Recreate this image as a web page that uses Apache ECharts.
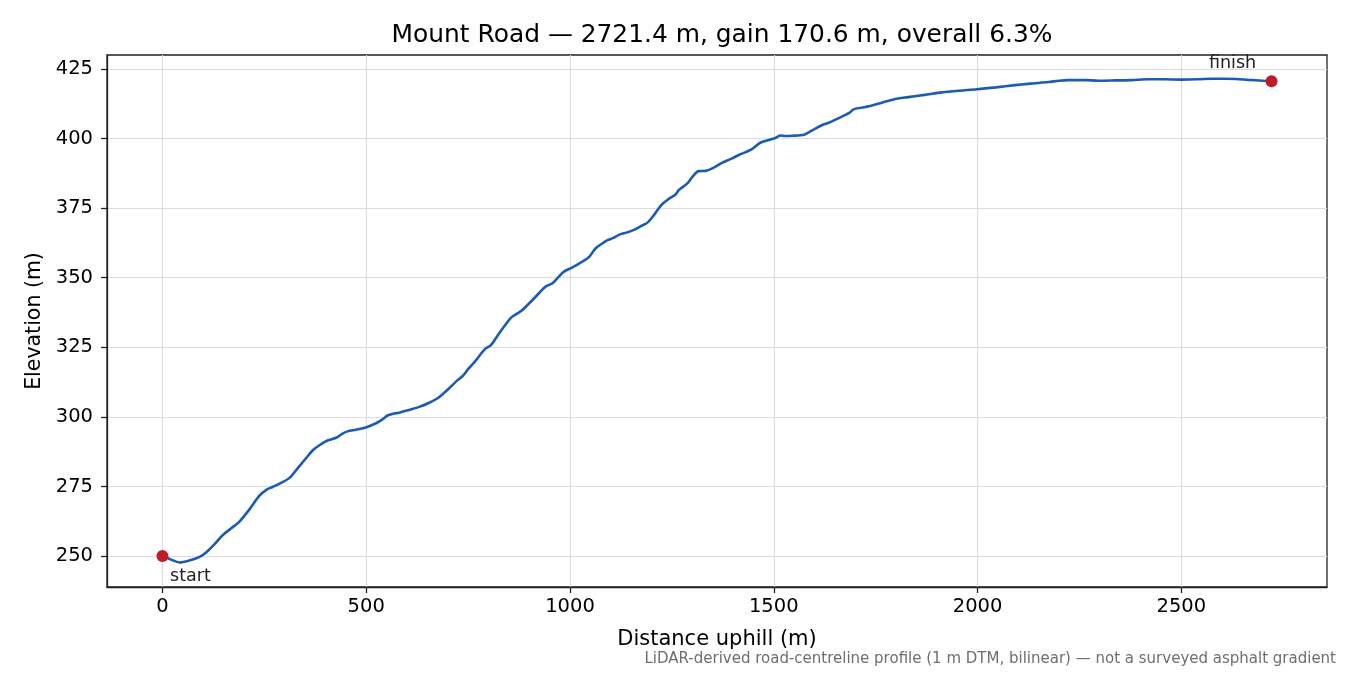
<!DOCTYPE html>
<html>
<head>
    <meta charset="UTF-8">
    <title>Mount Road profile</title>
    <script src="https://cdn.jsdelivr.net/npm/echarts@6/dist/echarts.min.js"></script>
    <style>
        html, body { margin: 0; padding: 0; background: #fff; }
        #chart { width: 1350px; height: 675px; }
    </style>
</head>
<body>
<div id="chart"></div>
<script>
    // 距离 (m) 和 高程 (m)
    var distance = [0, 20, 42, 66, 90, 107, 128, 147, 168, 189, 212, 238, 255, 270, 290, 311, 332, 352, 369, 385,
        405, 426, 440, 454, 475, 499, 524, 540, 552, 568, 581, 605, 630, 652, 675, 690, 703, 724, 736, 752,
        769, 785, 793, 806, 826, 841, 855, 870, 883, 908, 925, 940, 957, 972, 985, 1006, 1028, 1047, 1063, 1078,
        1092, 1106, 1120, 1140, 1157, 1175, 1190, 1206, 1218, 1226, 1242, 1259, 1267, 1288, 1304, 1316, 1333, 1349, 1373, 1398,
        1414, 1443, 1467, 1488, 1505, 1516, 1530, 1545, 1574, 1588, 1602, 1618, 1635, 1650, 1667, 1685, 1696, 1715, 1733, 1765,
        1798, 1830, 1870, 1913, 1955, 1998, 2045, 2092, 2135, 2174, 2200, 2223, 2264, 2297, 2340, 2378, 2419, 2460, 2501, 2540,
        2574, 2607, 2635, 2664, 2700, 2721.4];
    var elevation = [250.0, 248.8, 247.7, 248.4, 249.6, 251.3, 254.3, 257.4, 259.9, 262.4, 266.5, 271.7, 273.8, 274.8, 276.2, 278.0, 281.6, 285.1, 288.0, 289.8,
        291.5, 292.5, 293.8, 294.8, 295.4, 296.2, 297.7, 299.1, 300.5, 301.2, 301.5, 302.5, 303.6, 304.9, 306.7, 308.5, 310.2, 313.2, 314.6, 317.5,
        320.3, 323.3, 324.6, 325.8, 330.0, 333.0, 335.6, 337.1, 338.4, 342.0, 344.6, 346.8, 348.0, 350.3, 352.2, 353.7, 355.6, 357.5, 360.6, 362.2,
        363.5, 364.3, 365.4, 366.3, 367.2, 368.6, 369.8, 372.5, 375.0, 376.4, 378.3, 379.9, 381.5, 383.9, 386.9, 388.3, 388.4, 389.3, 391.3, 392.9,
        394.1, 395.9, 398.5, 399.5, 400.3, 401.1, 400.9, 401.0, 401.4, 402.4, 403.6, 404.8, 405.7, 406.7, 407.9, 409.2, 410.5, 411.1, 411.6, 412.9,
        414.2, 414.9, 415.7, 416.6, 417.2, 417.7, 418.4, 419.2, 419.8, 420.3, 420.8, 421.0, 421.0, 420.8, 420.9, 421.0, 421.3, 421.3, 421.2, 421.3,
        421.5, 421.5, 421.4, 421.1, 420.8, 420.6];
    var xTicks = [0, 500, 1000, 1500, 2000, 2500];
    var yTicks = [250, 275, 300, 325, 350, 375, 400, 425];
    var endNames = ['start', 'finish'];

    var font = 'DejaVu Sans';
    var profile = distance.map(function (d, i) { return [d, elevation[i]]; });
    var last = distance.length - 1;

    var myChart = echarts.init(document.getElementById('chart'));
    var option = {
        animation: false,
        textStyle: {fontFamily: font},
        title: {
            text: 'Mount Road — 2721.4 m, gain 170.6 m, overall 6.3%',
            left: 717, top: 18, textAlign: 'center',
            textStyle: {fontFamily: font, fontSize: 24.9, fontWeight: 'normal', color: '#000'}
        },
        grid: {
            left: 107, right: 23, top: 55, bottom: 88,
            show: true, borderColor: '#222', borderWidth: 1.3, backgroundColor: 'transparent'
        },
        xAxis: {
            type: 'value', min: -136.07, max: 2857.47,
            name: 'Distance uphill (m)', nameLocation: 'middle', nameGap: 42,
            nameTextStyle: {fontFamily: font, fontSize: 21, color: '#000'},
            axisLine: {show: true, onZero: false, lineStyle: {color: '#222', width: 1.3}},
            axisTick: {show: true, length: 6, customValues: xTicks, lineStyle: {color: '#222', width: 1.3}},
            axisLabel: {
                customValues: xTicks, fontFamily: font, fontSize: 19.5, color: '#000', margin: 10,
                formatter: function (v) { return String(v); }
            },
            splitLine: {show: true, lineStyle: {color: '#dcdcdc', width: 1.1}}
        },
        yAxis: {
            type: 'value', min: 238.88, max: 430.03,
            name: 'Elevation (m)', nameLocation: 'middle', nameGap: 62,
            nameTextStyle: {fontFamily: font, fontSize: 20.5, color: '#000'},
            axisLine: {show: true, onZero: false, lineStyle: {color: '#222', width: 1.3}},
            axisTick: {show: true, length: 6, customValues: yTicks, lineStyle: {color: '#222', width: 1.3}},
            axisLabel: {
                customValues: yTicks, fontFamily: font, fontSize: 19.5, color: '#000', margin: 14,
                formatter: function (v) { return String(v); }
            },
            splitLine: {show: true, lineStyle: {color: '#dcdcdc', width: 1.1}}
        },
        graphic: [{
            type: 'text', right: 14, top: 652,
            style: {
                text: 'LiDAR-derived road-centreline profile (1 m DTM, bilinear) — not a surveyed asphalt gradient',
                font: '15px "DejaVu Sans"', fill: '#6e6e6e', textAlign: 'right'
            }
        }],
        series: [
            {
                name: 'profile', type: 'line', data: profile,
                showSymbol: false, smooth: 0.3,
                lineStyle: {color: '#1c5bb3', width: 2.6},
                z: 2
            },
            {
                name: 'ends', type: 'scatter', symbolSize: 12,
                itemStyle: {color: '#c01b28', opacity: 1},
                z: 3,
                data: [
                    {
                        value: [distance[0], elevation[0]], name: endNames[0],
                        label: {show: true, formatter: '{b}', position: 'inside', offset: [28, 20],
                            fontFamily: font, fontSize: 17.5, color: '#222'}
                    },
                    {
                        value: [distance[last], elevation[last]], name: endNames[1],
                        label: {show: true, formatter: '{b}', position: 'inside', offset: [-39, -18],
                            fontFamily: font, fontSize: 17.5, color: '#222'}
                    }
                ]
            }
        ]
    };
    myChart.setOption(option);
</script>
</body>
</html>
